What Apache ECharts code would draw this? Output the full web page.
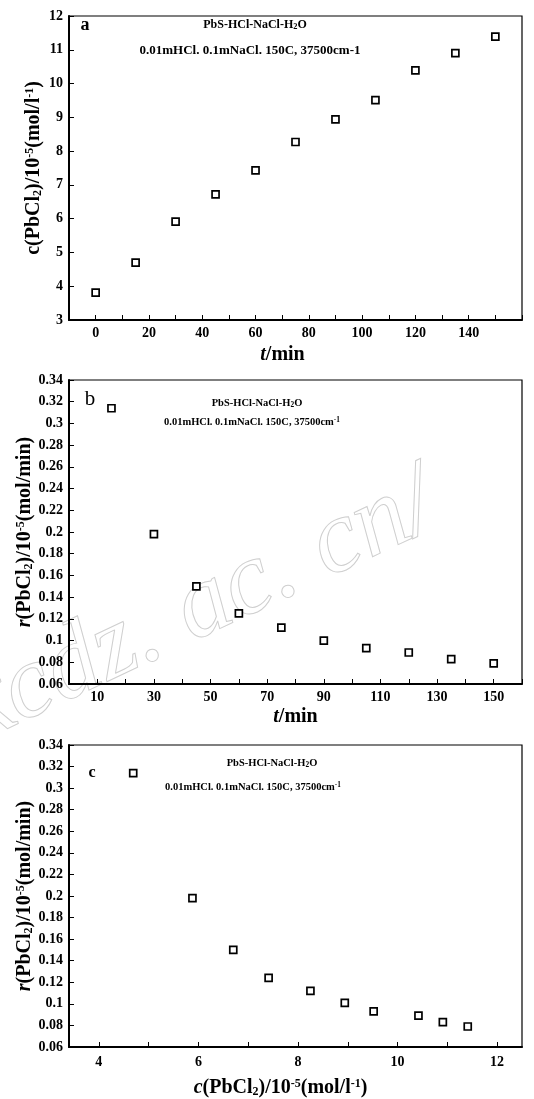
<!DOCTYPE html>
<html>
<head>
<meta charset="utf-8">
<script src="https://cdn.jsdelivr.net/npm/echarts@6/dist/echarts.min.js"></script>
<style>
    html, body { margin: 0; padding: 0; background: #fff; }
    #chart { width: 534px; height: 1099px; }
</style>
</head>
<body>
<div id="chart"></div>
<script>
// panel a: concentration vs time
const timeA = [0, 15, 30, 45, 60, 75, 90, 105, 120, 135, 150];
const concA = [3.81, 4.70, 5.91, 6.72, 7.43, 8.27, 8.94, 9.51, 10.39, 10.90, 11.39];

// panel b: rate vs time
const timeB = [15, 30, 45, 60, 75, 90, 105, 120, 135, 150];
const rateB = [0.314, 0.198, 0.150, 0.125, 0.112, 0.100, 0.093, 0.089, 0.083, 0.079];

// panel c: rate vs concentration
const concC = [4.69, 5.88, 6.70, 7.41, 8.25, 8.94, 9.52, 10.42, 10.91, 11.41];
const rateC = [0.314, 0.198, 0.150, 0.124, 0.112, 0.101, 0.093, 0.089, 0.083, 0.079];

const ticksC = [4, 5, 6, 7, 8, 9, 10, 11, 12];
const labelsC = [4, 6, 8, 10, 12];

const SERIF = '"Liberation Serif", "Times New Roman", serif';

const rich = {
    sub: {fontFamily: SERIF, fontWeight: 'bold', fontSize: 12, verticalAlign: 'bottom', color: '#000'},
    sup: {fontFamily: SERIF, fontWeight: 'bold', fontSize: 12, verticalAlign: 'top', color: '#000'},
    it: {fontFamily: SERIF, fontWeight: 'bold', fontStyle: 'italic', fontSize: 20, color: '#000'},
};

function nameStyle(padding) {
    return {
        fontFamily: SERIF,
        fontWeight: 'bold',
        fontSize: 20,
        color: '#000',
        padding: padding || 0,
        rich: rich,
    };
}

function baseAxis(gridIndex) {
    return {
        gridIndex: gridIndex,
        splitLine: {show: false},
        axisLine: {show: true, onZero: false, lineStyle: {color: '#000', width: 2}},
        axisTick: {show: true, inside: true, length: 5, lineStyle: {color: '#000', width: 1}},
        axisLabel: {
            color: '#000',
            fontFamily: SERIF,
            fontWeight: 'bold',
            fontSize: 14,
            hideOverlap: false,
        },
        nameMoveOverlap: false,
    };
}

const xA = Object.assign(baseAxis(0), {
    type: 'value', min: -10, max: 160, interval: 10,
    name: '{it|t}/min', nameLocation: 'middle', nameGap: 25,
    nameTextStyle: nameStyle([0, 26, 0, 0]),
});
xA.axisLabel.margin = 6;
xA.axisLabel.formatter = (v) => (v >= 0 && v <= 140 && v % 20 === 0 ? String(v) : '');

const yA = Object.assign(baseAxis(0), {
    type: 'value', min: 3, max: 12, interval: 1,
    name: 'c(PbCl{sub|2})/10{sup|-5}(mol/l{sup|-1})', nameLocation: 'middle', nameGap: 25,
    nameTextStyle: nameStyle(),
});
yA.axisLabel.margin = 6;

const xB = Object.assign(baseAxis(1), {
    type: 'value', min: 0, max: 160, interval: 10,
    name: '{it|t}/min', nameLocation: 'middle', nameGap: 23,
    nameTextStyle: nameStyle(),
});
xB.axisLabel.margin = 6;
xB.axisLabel.formatter = (v) => (v % 20 === 10 && v <= 150 ? String(v) : '');

const yB = Object.assign(baseAxis(1), {
    type: 'value', min: 0.06, max: 0.34, interval: 0.02,
    name: '{it|r}(PbCl{sub|2})/10{sup|-5}(mol/min)', nameLocation: 'middle', nameGap: 34,
    nameTextStyle: nameStyle(),
});
yB.axisLabel.margin = 6;

const xC = Object.assign(baseAxis(2), {
    type: 'value', min: 3.4, max: 12.5,
    name: '{it|c}(PbCl{sub|2})/10{sup|-5}(mol/l{sup|-1})', nameLocation: 'middle', nameGap: 31,
    nameTextStyle: nameStyle([0, 30, 0, 0]),
});
xC.axisTick.customValues = ticksC;
xC.axisLabel.customValues = labelsC;
xC.axisLabel.margin = 8;

const yC = Object.assign(baseAxis(2), {
    type: 'value', min: 0.06, max: 0.34, interval: 0.02,
    name: '{it|r}(PbCl{sub|2})/10{sup|-5}(mol/min)', nameLocation: 'middle', nameGap: 34,
    nameTextStyle: nameStyle(),
});
yC.axisLabel.margin = 6;

function scatter(xs, ys, idx) {
    return {
        type: 'scatter',
        xAxisIndex: idx,
        yAxisIndex: idx,
        data: xs.map((x, i) => [x, ys[i]]),
        symbol: 'rect',
        symbolSize: 7,
        itemStyle: {color: '#fff', borderColor: '#000', borderWidth: 1.7, opacity: 1},
        silent: true,
    };
}

function label(text, x, y, size, weight) {
    return {
        type: 'text',
        x: x,
        y: y,
        z: 10,
        style: {
            text: text,
            fontFamily: SERIF,
            fontWeight: weight || 'bold',
            fontSize: size,
            fill: '#000',
            align: 'center',
            verticalAlign: 'middle',
            rich: {
                sub: {fontFamily: SERIF, fontWeight: 'bold', fontSize: size * 0.7, verticalAlign: 'bottom', fill: '#000'},
                sup: {fontFamily: SERIF, fontWeight: 'bold', fontSize: size * 0.7, verticalAlign: 'top', fill: '#000'},
            },
        },
    };
}

const chart = echarts.init(document.getElementById('chart'), null, {renderer: 'canvas'});

chart.setOption({
    animation: false,
    backgroundColor: '#fff',
    grid: [
        {left: 69, top: 16, width: 453, height: 304, show: true, borderColor: '#000', borderWidth: 1.2, outerBoundsMode: 'none'},
        {left: 69, top: 380, width: 453, height: 304, show: true, borderColor: '#000', borderWidth: 1.2, outerBoundsMode: 'none'},
        {left: 69, top: 745, width: 453, height: 302, show: true, borderColor: '#000', borderWidth: 1.2, outerBoundsMode: 'none'},
    ],
    xAxis: [xA, xB, xC],
    yAxis: [yA, yB, yC],
    series: [
        scatter(timeA, concA, 0),
        scatter(timeB, rateB, 1),
        scatter(concC, rateC, 2),
    ],
    graphic: [
        // faint site watermark across panel b
        {
            type: 'text',
            x: -12,
            y: 765,
            rotation: 0.44,
            z: 0,
            silent: true,
            style: {
                text: 'kcdz. ac. cn/',
                fontFamily: SERIF,
                fontStyle: 'italic',
                fontSize: 104,
                fill: 'rgba(0,0,0,0)',
                stroke: '#cfcfcf',
                lineWidth: 1,
                align: 'left',
                verticalAlign: 'bottom',
            },
        },
        label('a', 85, 25, 18),
        label('PbS-HCl-NaCl-H{sub|2}O', 255, 25, 12),
        label('0.01mHCl. 0.1mNaCl. 150C, 37500cm-1', 250, 51, 13),
        label('b', 90, 399, 21, 'normal'),
        label('PbS-HCl-NaCl-H{sub|2}O', 257, 403, 10.5),
        label('0.01mHCl. 0.1mNaCl. 150C, 37500cm{sup|-1}', 252, 422, 10.5),
        label('c', 92, 773, 16),
        label('PbS-HCl-NaCl-H{sub|2}O', 272, 763, 10.5),
        label('0.01mHCl. 0.1mNaCl. 150C, 37500cm{sup|-1}', 253, 787, 10.5),
    ],
});
</script>
</body>
</html>
